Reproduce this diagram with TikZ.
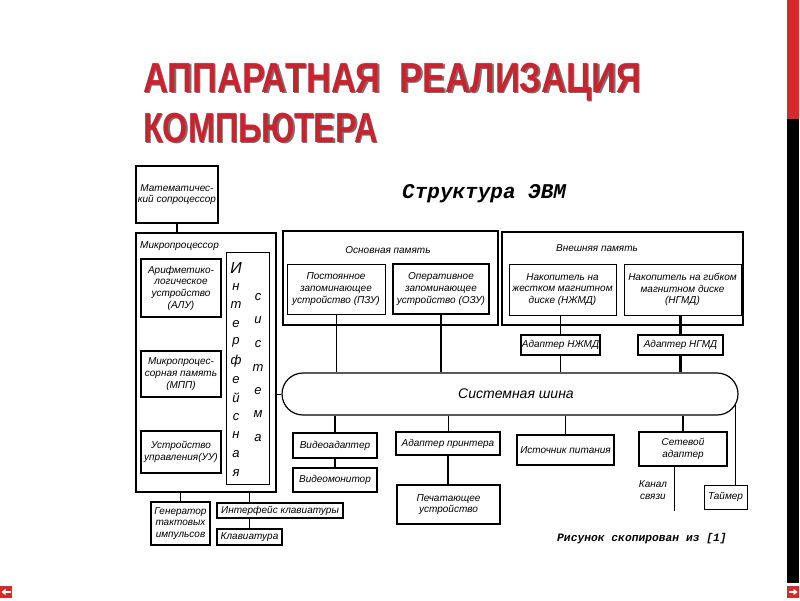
\documentclass[tikz,border=0pt]{standalone}
\usepackage{fontspec}
\setmainfont{Liberation Sans}
\newfontfamily\monofnt{Liberation Mono}
\usetikzlibrary{arrows.meta}
\definecolor{titlered}{HTML}{C8232E}
\definecolor{barred}{HTML}{D42A2A}
\newcommand\shadowtxt[2]{\makebox[0pt][l]{\hspace{1.6pt}\raisebox{-1.6pt}{\color{black!55}\scalebox{#1}[1]{#2}}}\scalebox{#1}[1]{#2}}
\begin{document}
\begin{tikzpicture}[x=1pt,y=-1pt,
  lbl/.style={font=\itshape\fontsize{10}{11.7}\selectfont, align=center, inner sep=0pt},
  thinbox/.style={draw, line width=0.9pt, inner sep=0pt, lbl},
  thickbox/.style={draw, line width=1.8pt, inner sep=0pt, lbl},
  thinln/.style={line width=0.9pt},
  thickln/.style={line width=2.2pt},
  vlet/.style={font=\itshape\fontsize{13}{14}\selectfont, inner sep=0pt},
  ttl/.style={font=\bfseries\fontsize{42}{48}\selectfont, inner sep=0pt, anchor=base west, text=titlered},
]
\useasboundingbox (0,0) rectangle (800,600);
\fill[white] (0,0) rectangle (800,600);

% title
\node[ttl] (t1) at (143,92) {\shadowtxt{0.82}{АППАРАТНАЯ\ \ РЕАЛИЗАЦИЯ}};
\node[ttl] (t2) at (143,142) {\shadowtxt{0.77}{КОМПЬЮТЕРА}};

% right bar and icons
\fill[barred] (787,0) rectangle (799,119);
\fill[black] (787,119) rectangle (799,583);
\fill[barred] (0,586) rectangle (12,598);
\fill[barred] (787,586) rectangle (799,598);
\draw[white, line width=2pt, -{Triangle[length=4pt,width=6pt]}] (10.5,592) -- (1.5,592);
\draw[white, line width=2pt, -{Triangle[length=4pt,width=6pt]}] (788.5,592) -- (797.5,592);

% heading
\node[font=\monofnt\bfseries\itshape\fontsize{21}{23}\selectfont, anchor=base west, inner sep=0pt] (head) at (402,198) {Структура ЭВМ};

% left part
\node[thinbox, line width=1.2pt, minimum width=82pt, minimum height=57pt] (cop) at (177,194.5) {Математичес-\\кий сопроцессор};
\node[thinbox, line width=1.2pt, minimum width=140pt, minimum height=259pt] (mp) at (206,362.5) {};
\node[lbl, anchor=west] (mplbl) at (140,246) {Микропроцессор};
\node[thickbox, minimum width=80pt, minimum height=58pt] (alu) at (181,288) {Арифметико-\\логическое\\устройство\\(АЛУ)};
\node[thickbox, minimum width=80pt, minimum height=46pt] (mpp) at (181,374) {Микропроцес-\\сорная память\\(МПП)};
\node[thickbox, minimum width=80pt, minimum height=42pt] (uu) at (181,452) {Устройство\\управления(УУ)};
\node[thinbox, minimum width=43pt, minimum height=232pt] (ifs) at (247.5,368) {};
\node[vlet, font=\itshape\fontsize{16}{17}\selectfont] (l1) at (236,268) {И};
\foreach \c [count=\i] in {н,т,е,р,ф,е,й,с,н,а,я}
  \node[vlet] (la\i) at (236,{268+\i*18.6}) {\c};
\foreach \c [count=\i from 0] in {с,и,с,т,е,м,а}
  \node[vlet] (lb\i) at (258,{297+\i*23.5}) {\c};

\node[thickbox, minimum width=59pt, minimum height=43pt] (gen) at (180.5,523.5) {Генератор\\тактовых\\импульсов};
\node[thinbox, line width=1.2pt, minimum width=126pt, minimum height=15pt] (ikb) at (280,510.5) {Интерфейс клавиатуры};
\node[thickbox, minimum width=65pt, minimum height=16pt] (kb) at (249.5,537) {Клавиатура};

% memory
\node[thinbox, line width=1.2pt, minimum width=215pt, minimum height=94pt] (om) at (390.5,278) {};
\node[lbl] (omlbl) at (388,250) {Основная память};
\node[thinbox, minimum width=98pt, minimum height=50pt] (pzu) at (336,289) {Постоянное\\запоминающее\\устройство (ПЗУ)};
\node[thickbox, minimum width=96pt, minimum height=50pt] (ozu) at (441,289) {Оперативное\\запоминающее\\устройство (ОЗУ)};

\node[thinbox, line width=1.2pt, minimum width=241pt, minimum height=93pt] (vm) at (622.5,278.5) {};
\node[lbl] (vmlbl) at (597,248) {Внешняя память};
\node[thinbox, minimum width=107pt, minimum height=51pt] (nzmd) at (562.5,289.5) {Накопитель на\\жестком магнитном\\диске (НЖМД)};
\node[thinbox, minimum width=117pt, minimum height=51pt] (ngmd) at (682.5,289.5) {Накопитель на гибком\\магнитном диске\\(НГМД)};
\node[thickbox, minimum width=79pt, minimum height=20pt] (anzmd) at (560.5,345) {Адаптер НЖМД};
\node[thinbox, line width=1.4pt, minimum width=85pt, minimum height=20pt] (angmd) at (680.5,345) {Адаптер НГМД};

% bus
\node[draw, line width=1.2pt, rounded corners=21pt, minimum width=456pt, minimum height=42pt, inner sep=0pt, font=\itshape\fontsize{14}{16}\selectfont] (bus) at (510,394) {\hspace{12pt}Системная шина};

% lower devices
\node[thickbox, minimum width=84pt, minimum height=25pt] (va) at (335,445.5) {Видеоадаптер};
\node[thinbox, line width=1.4pt, minimum width=84pt, minimum height=24pt] (vmon) at (335,480) {Видеомонитор};
\node[thickbox, minimum width=104pt, minimum height=23pt] (apr) at (448,443.5) {Адаптер принтера};
\node[thinbox, line width=1.4pt, minimum width=103pt, minimum height=39pt] (pr) at (448.5,504.5) {Печатающее\\устройство};
\node[thickbox, minimum width=97pt, minimum height=30pt] (pw) at (565.5,450) {Источник питания};
\node[thickbox, minimum width=88pt, minimum height=34pt] (net) at (683,449) {Сетевой\\адаптер};
\node[thinbox, minimum width=43pt, minimum height=24pt] (tmr) at (725.5,497) {Таймер};
\node[lbl] (kanal) at (653,490) {Канал\\связи};
\node[font=\monofnt\bfseries\itshape\fontsize{11.3}{13}\selectfont, anchor=base west, inner sep=0pt] (cap) at (557,541) {Рисунок скопирован из [1]};

\coordinate (netend) at (674,511);
\coordinate (tt) at (735,405);

% connectors
\draw[thickln] (cop.south) -- (cop.south |- mp.north);
\draw[thinln] (mp.east |- bus.west) -- (bus.west);
\draw[thinln] (mp.south -| gen.north) -- (gen.north);
\draw[thinln] (mp.south -| kb.north) -- (ikb.north -| kb.north);
\draw[thinln] (ikb.south -| kb.north) -- (kb.north);
\draw[thinln] (pzu.south) -- (pzu.south |- bus.north);
\draw[thickln] (ozu.south) -- (ozu.south |- bus.north);
\draw[thinln] (nzmd.south -| anzmd.north) -- (anzmd.north);
\draw[thinln] (anzmd.south) -- (anzmd.south |- bus.north);
\draw[thickln] (ngmd.south -| angmd.north) -- (angmd.north);
\draw[thickln] (angmd.south) -- (angmd.south |- bus.north);
\draw[thickln] (bus.south -| va.north) -- (va.north);
\draw[thickln] (va.south) -- (vmon.north);
\draw[thinln] (bus.south -| apr.north) -- (apr.north);
\draw[thickln] (apr.south) -- (apr.south |- pr.north);
\draw[thinln] (bus.south -| pw.north) -- (pw.north);
\draw[thickln] (bus.south -| net.north) -- (net.north);
\draw[thinln] (net.south -| netend) -- (netend);
\draw[thinln] (tt) -- (tt |- tmr.north);
\end{tikzpicture}
\end{document}
